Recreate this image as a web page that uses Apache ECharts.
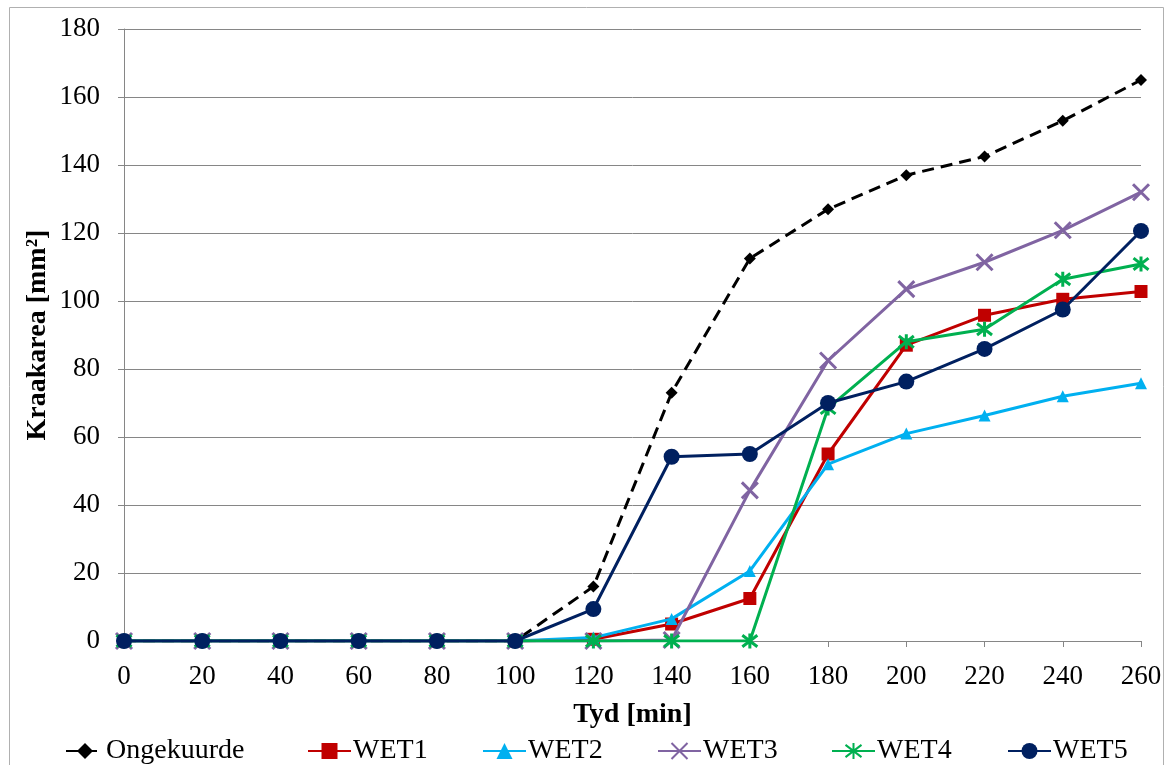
<!DOCTYPE html>
<html>
<head>
<meta charset="utf-8">
<script src="https://cdn.jsdelivr.net/npm/echarts@6/dist/echarts.min.js"></script>
<style>
  html, body { margin: 0; padding: 0; background: #fff; }
  #chart { width: 1166px; height: 765px; }
</style>
</head>
<body>
<div id="chart"></div>
<script>
// Time (min) and crack area (mm²) per curing method
var times       = [0, 20, 40, 60, 80, 100, 120, 140, 160, 180, 200, 220, 240, 260];
var ongekuurde  = [0, 0, 0, 0, 0, 0, 16, 73, 112.5, 127, 137, 142.5, 153, 165];
var wet1        = [0, 0, 0, 0, 0, 0, 0.5, 5, 12.5, 55, 87, 95.8, 100.5, 102.8];
var wet2        = [0, 0, 0, 0, 0, 0, 1, 6.5, 20.6, 52, 61, 66.3, 72, 75.8];
var wet3        = [0, 0, 0, 0, 0, 0, 0, 0.3, 44.3, 82.5, 103.5, 111.4, 120.8, 132];
var wet4        = [0, 0, 0, 0, 0, 0, 0, 0, 0, 68.5, 88, 91.7, 106.4, 110.9];
var wet5        = [0, 0, 0, 0, 0, 0, 9.4, 54.2, 55, 70, 76.3, 85.9, 97.5, 120.6];

var seriesNames = ['Ongekuurde', 'WET1', 'WET2', 'WET3', 'WET4', 'WET5'];

function pairs(vals) {
  return times.map(function (t, i) { return [t, vals[i]]; });
}

var FONT = '"Liberation Serif", "Times New Roman", serif';
var GRID_GRAY = '#868686';

var crossPath = 'path://M0,0L10,10M10,0L0,10';
var starPath  = 'path://M0,0L10,10M10,0L0,10M5,-1.5L5,11.5';

var styles = [
  { color: '#000000', symbol: 'diamond', size: 12, dash: [12, 7] },
  { color: '#C00000', symbol: 'rect', size: 13 },
  { color: '#00B0F0', symbol: 'triangle', size: 12 },
  { color: '#8064A2', symbol: crossPath, size: 16, stroke: true },
  { color: '#00B050', symbol: starPath, size: 15, stroke: true },
  { color: '#002060', symbol: 'circle', size: 16 }
];
var values = [ongekuurde, wet1, wet2, wet3, wet4, wet5];

var series = seriesNames.map(function (name, i) {
  var s = styles[i];
  return {
    name: name,
    type: 'line',
    data: pairs(values[i]),
    symbol: s.symbol,
    symbolSize: s.size,
    showAllSymbol: true,
    z: 2 + i,
    lineStyle: { color: s.color, width: 3, type: s.dash || 'solid' },
    itemStyle: s.stroke
      ? { color: s.color, borderColor: s.color, borderWidth: 3 }
      : { color: s.color, borderColor: s.color, borderWidth: 0 },
    emphasis: { disabled: true },
    animation: false
  };
});

var legendLeft = [60, 302, 477, 652, 826, 1002];
var legends = seriesNames.map(function (name, i) {
  return {
    data: [name],
    left: legendLeft[i],
    top: 732,
    itemWidth: i === 0 ? 38 : 43,
    itemHeight: 20,
    itemGap: 0,
    selectedMode: false,
    textStyle: { fontFamily: FONT, fontSize: 28, color: '#000', padding: [2, 0, 0, -3] }
  };
});

var chart = echarts.init(document.getElementById('chart'), null, { renderer: 'canvas' });
chart.setOption({
  backgroundColor: '#ffffff',
  animation: false,
  graphic: [{
    type: 'rect',
    shape: { x: 9.5, y: 7.5, width: 1154, height: 800 },
    style: { fill: 'none', stroke: '#B0B0B0', lineWidth: 1 },
    silent: true
  }],
  grid: { left: 124, right: 25, top: 29, bottom: 124, containLabel: false },
  legend: legends,
  xAxis: {
    type: 'value',
    min: 0, max: 260, interval: 20,
    name: 'Tyd [min]',
    nameLocation: 'middle',
    nameGap: 60,
    nameTextStyle: { fontFamily: FONT, fontSize: 28, fontWeight: 'bold', color: '#000' },
    axisLine: { show: true, lineStyle: { color: GRID_GRAY, width: 1 } },
    axisTick: { show: true, length: 6, lineStyle: { color: GRID_GRAY } },
    axisLabel: { fontFamily: FONT, fontSize: 27, color: '#000', margin: 22 },
    splitLine: { show: false }
  },
  yAxis: {
    type: 'value',
    min: 0, max: 180, interval: 20,
    name: 'Kraakarea [mm²]',
    nameLocation: 'middle',
    nameGap: 72,
    nameMoveOverlap: false,
    nameTextStyle: { fontFamily: FONT, fontSize: 28, fontWeight: 'bold', color: '#000' },
    axisLine: { show: true, lineStyle: { color: GRID_GRAY, width: 1 } },
    axisTick: { show: true, length: 6, lineStyle: { color: GRID_GRAY } },
    axisLabel: { fontFamily: FONT, fontSize: 27, color: '#000', margin: 24 },
    splitLine: { show: true, lineStyle: { color: GRID_GRAY, width: 1 } }
  },
  series: series
});
</script>
</body>
</html>
